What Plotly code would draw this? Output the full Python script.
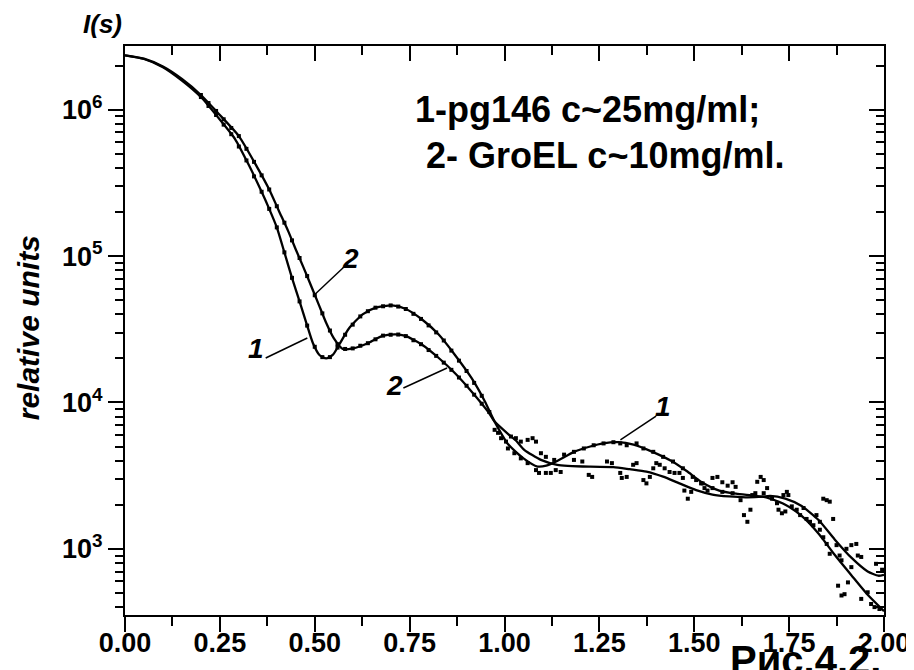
import plotly.graph_objects as go

# ---------------- data ----------------
# fitted curve 1 (pg146)
fit1_s = [0.00, 0.05, 0.10, 0.15, 0.20, 0.243, 0.29, 0.326, 0.36, 0.38, 0.40, 0.42, 0.44, 0.46, 0.48,
          0.495, 0.513, 0.53, 0.548, 0.565, 0.59, 0.626, 0.661, 0.704, 0.74, 0.782, 0.826, 0.869,
          0.913, 0.948, 0.974, 1.009, 1.05, 1.087, 1.11, 1.14, 1.183, 1.226, 1.26, 1.30, 1.34, 1.39,
          1.44, 1.48, 1.52, 1.566, 1.61, 1.65, 1.68, 1.70, 1.74, 1.783, 1.83, 1.87, 1.914, 1.957, 2.00]
fit1_i = [2.35e6, 2.22e6, 1.95e6, 1.58e6, 1.22e6, 9.0e5, 6.3e5, 4.2e5, 2.75e5, 2.1e5, 1.57e5, 1.06e5,
          7.1e4, 4.9e4, 3.35e4, 2.55e4, 2.1e4, 2.0e4, 2.12e4, 2.5e4, 3.2e4, 4.0e4, 4.45e4, 4.6e4,
          4.35e4, 3.7e4, 2.92e4, 2.12e4, 1.47e4, 1.02e4, 7.4e3, 5.2e3, 4.15e3, 3.65e3, 3.7e3, 4.0e3,
          4.6e3, 5.0e3, 5.25e3, 5.35e3, 5.15e3, 4.6e3, 3.98e3, 3.4e3, 2.85e3, 2.5e3, 2.38e3, 2.32e3,
          2.27e3, 2.2e3, 2.0e3, 1.68e3, 1.25e3, 9.1e2, 6.6e2, 4.85e2, 375]

# fitted curve 2 (GroEL)
fit2_s = [0.00, 0.05, 0.10, 0.15, 0.20, 0.243, 0.30, 0.347, 0.38, 0.405, 0.43, 0.45, 0.47, 0.49, 0.51,
          0.53, 0.55, 0.574, 0.60, 0.643, 0.678, 0.713, 0.739, 0.782, 0.826, 0.869, 0.913, 0.956,
          0.974, 1.009, 1.03, 1.052, 1.096, 1.139, 1.226, 1.287, 1.33, 1.374, 1.418, 1.461, 1.505,
          1.548, 1.592, 1.635, 1.68, 1.70, 1.74, 1.783, 1.827, 1.87, 1.914, 1.957, 1.985, 2.00]
fit2_i = [2.35e6, 2.23e6, 1.97e6, 1.62e6, 1.26e6, 9.6e5, 6.6e5, 4.1e5, 2.85e5, 2.05e5, 1.48e5, 1.11e5,
          8.4e4, 6.3e4, 4.7e4, 3.5e4, 2.75e4, 2.32e4, 2.34e4, 2.56e4, 2.85e4, 2.92e4, 2.85e4, 2.49e4,
          2.02e4, 1.59e4, 1.19e4, 8.7e3, 7.4e3, 6.1e3, 5.5e3, 4.75e3, 4.05e3, 3.75e3, 3.64e3, 3.62e3,
          3.5e3, 3.37e3, 3.11e3, 2.8e3, 2.52e3, 2.35e3, 2.28e3, 2.25e3, 2.27e3, 2.3e3, 2.2e3, 1.96e3,
          1.58e3, 1.16e3, 8.7e2, 7.0e2, 6.55e2, 665]

# experimental points, sample 1
exp1_s = [0.20, 0.22, 0.24, 0.26, 0.28, 0.30, 0.32, 0.34, 0.36, 0.38, 0.40, 0.42, 0.44, 0.46, 0.48,
          0.50, 0.52, 0.54, 0.56, 0.58, 0.60, 0.62, 0.64, 0.66, 0.68, 0.70, 0.72, 0.74, 0.76, 0.78,
          0.80, 0.82, 0.84, 0.86, 0.88, 0.90, 0.92, 0.94, 0.96,
          1.009, 1.026, 1.043, 1.061, 1.083, 1.091, 1.109, 1.122, 1.135, 1.148, 1.131, 1.157, 1.183,
          1.209, 1.235, 1.261, 1.287, 1.305, 1.322, 1.348, 1.366, 1.392, 1.418, 1.444, 1.470, 1.496,
          1.522, 1.548, 1.574, 1.601, 1.653, 1.661, 1.683, 1.718, 1.722, 1.731, 1.740, 1.757, 1.770,
          1.779, 1.788, 1.796, 1.805, 1.814, 1.822, 1.831, 1.831, 1.840, 1.849, 1.857, 1.875, 1.883,
          1.888, 1.879, 1.888, 1.896, 1.905, 1.914, 1.940, 1.957, 1.966, 1.975, 1.988]
exp1_i = [1.22e6, 1.06e6, 9.2e5, 7.9e5, 6.8e5, 5.6e5, 4.5e5, 3.5e5, 2.75e5, 2.1e5, 1.57e5, 1.06e5,
          7.1e4, 4.9e4, 3.35e4, 2.4e4, 2.04e4, 2.04e4, 2.37e4, 2.9e4, 3.4e4, 3.87e4, 4.2e4, 4.44e4,
          4.54e4, 4.6e4, 4.52e4, 4.35e4, 4.03e4, 3.72e4, 3.36e4, 3.01e4, 2.65e4, 2.26e4, 1.93e4,
          1.64e4, 1.36e4, 1.11e4, 8.6e3,
          4.85e3, 4.5e3, 4.15e3, 3.85e3, 3.45e3, 3.3e3, 3.3e3, 3.3e3, 3.45e3, 3.35e3, 4.05e3, 4.4e3,
          4.6e3, 4.85e3, 5.1e3, 5.25e3, 5.35e3, 5.25e3, 5.1e3, 5.25e3, 4.85e3, 4.6e3, 4.25e3, 3.95e3,
          3.55e3, 3.1e3, 2.8e3, 2.6e3, 2.45e3, 2.4e3, 2.33e3, 2.4e3, 2.4e3, 2.05e3, 1.85e3, 1.75e3,
          1.8e3, 1.95e3, 1.85e3, 1.7e3, 1.9e3, 1.6e3, 1.53e3, 1.45e3, 1.7e3, 1.53e3, 1.35e3, 1.2e3,
          1.08e3, 925, 1.06e3, 900, 835, 560, 480, 490, 590, 750, 455, 505, 420, 400, 388]

# experimental points, sample 2
exp2_s = [0.20, 0.22, 0.24, 0.26, 0.28, 0.30, 0.32, 0.34, 0.36, 0.38, 0.40, 0.42, 0.44, 0.46, 0.48,
          0.50, 0.52, 0.54, 0.56, 0.58, 0.60, 0.62, 0.64, 0.66, 0.68, 0.70, 0.72, 0.74, 0.76, 0.78,
          0.80, 0.82, 0.84, 0.86, 0.88, 0.90, 0.92, 0.94,
          0.974, 0.983, 0.991, 1.004, 1.017, 1.030, 1.043, 1.061, 1.074, 1.083, 1.096, 1.109, 1.183,
          1.205, 1.222, 1.231, 1.270, 1.283, 1.305, 1.309, 1.322, 1.339, 1.348, 1.366, 1.374, 1.383,
          1.392, 1.400, 1.409, 1.422, 1.435, 1.448, 1.461, 1.470, 1.474, 1.483, 1.492, 1.505, 1.518,
          1.527, 1.535, 1.548, 1.561, 1.574, 1.588, 1.601, 1.609, 1.622, 1.631, 1.640, 1.648, 1.666,
          1.675, 1.683, 1.692, 1.705, 1.735, 1.744, 1.748, 1.840, 1.849, 1.857, 1.866, 1.901, 1.914,
          1.927, 1.931, 1.940, 1.979, 1.995]
exp2_i = [1.26e6, 1.11e6, 9.8e5, 8.6e5, 7.5e5, 6.6e5, 5.4e5, 4.4e5, 3.56e5, 2.85e5, 2.19e5, 1.69e5,
          1.28e5, 9.7e4, 7.3e4, 5.4e4, 4.06e4, 3.1e4, 2.5e4, 2.32e4, 2.34e4, 2.44e4, 2.54e4, 2.7e4,
          2.86e4, 2.9e4, 2.91e4, 2.84e4, 2.66e4, 2.5e4, 2.28e4, 2.08e4, 1.87e4, 1.67e4, 1.48e4,
          1.30e4, 1.13e4, 9.8e3,
          6.5e3, 6.2e3, 5.7e3, 5.4e3, 5.85e3, 5.7e3, 5.4e3, 5.55e3, 5.7e3, 5.4e3, 4.5e3, 4.25e3, 4.05e3,
          3.95e3, 3.2e3, 3.1e3, 3.95e3, 3.85e3, 3.3e3, 3.05e3, 3.1e3, 3.75e3, 3.85e3, 2.95e3, 2.8e3,
          3.1e3, 3.55e3, 3.85e3, 3.75e3, 3.55e3, 3.35e3, 3.3e3, 3.3e3, 3.05e3, 2.5e3, 2.2e3, 2.45e3,
          2.95e3, 2.8e3, 2.6e3, 2.5e3, 3.05e3, 3.1e3, 2.85e3, 2.7e3, 2.85e3, 2.65e3, 2.15e3, 1.7e3,
          1.53e3, 1.85e3, 2.87e3, 3.1e3, 2.95e3, 2.6e3, 2.2e3, 2.33e3, 2.45e3, 2.33e3, 2.2e3, 2.15e3,
          2.1e3, 1.6e3, 1.0e3, 1.06e3, 1.08e3, 900, 880, 790, 720]

x_ticks = [0.0, 0.25, 0.5, 0.75, 1.0, 1.25, 1.5, 1.75, 2.0]
x_minor = [0.125, 0.375, 0.625, 0.875, 1.125, 1.375, 1.625, 1.875]
y_ticks = [1e3, 1e4, 1e5, 1e6]
y_ticktext = ["10<sup>3</sup>", "10<sup>4</sup>", "10<sup>5</sup>", "10<sup>6</sup>"]
y_minor = [k * 10 ** d for d in range(2, 7) for k in range(2, 10) if 350 <= k * 10 ** d <= 2.8e6]

legend_lines = ["1-pg146 c~25mg/ml;", "2- GroEL c~10mg/ml."]

# ---------------- figure ----------------
FONT = "Liberation Sans, Arial, sans-serif"
BLACK = "#000000"

fig = go.Figure()
fig.add_trace(go.Scatter(x=fit1_s, y=fit1_i, mode="lines", line=dict(color=BLACK, width=2.3, shape="spline", smoothing=0.6), hoverinfo="skip"))
fig.add_trace(go.Scatter(x=fit2_s, y=fit2_i, mode="lines", line=dict(color=BLACK, width=2.3, shape="spline", smoothing=0.6), hoverinfo="skip"))
fig.add_trace(go.Scatter(x=exp1_s, y=exp1_i, mode="markers", marker=dict(symbol="square", size=4, color=BLACK), hoverinfo="skip"))
fig.add_trace(go.Scatter(x=exp2_s, y=exp2_i, mode="markers", marker=dict(symbol="square", size=4, color=BLACK), hoverinfo="skip"))
# invisible trace to anchor mirrored (inside-tick) axes
fig.add_trace(go.Scatter(x=[1.0], y=[1e4], xaxis="x2", yaxis="y2", mode="markers", marker=dict(opacity=0), hoverinfo="skip"))

yr = [2.548, 6.435]
tickfont = dict(family=FONT, size=27, color=BLACK, weight="bold")

fig.update_layout(
    width=914, height=670,
    margin=dict(l=117, r=31, t=38, b=63),
    paper_bgcolor="white", plot_bgcolor="white",
    showlegend=False,
    xaxis=dict(range=[0, 2], tickmode="array", tickvals=x_ticks, tickformat=".2f",
               ticks="outside", ticklen=15, tickwidth=2, tickcolor=BLACK,
               showline=True, linewidth=2, linecolor=BLACK, showgrid=False, zeroline=False,
               tickfont=tickfont, ticklabelstandoff=-12,
               minor=dict(tickmode="array", tickvals=x_minor, ticks="outside", ticklen=9, tickwidth=2, tickcolor=BLACK, showgrid=False)),
    yaxis=dict(type="log", range=yr, tickmode="array", tickvals=y_ticks, ticktext=y_ticktext,
               ticks="outside", ticklen=15, tickwidth=2, tickcolor=BLACK,
               showline=True, linewidth=2, linecolor=BLACK, showgrid=False, zeroline=False,
               tickfont=tickfont,
               minor=dict(tickmode="array", tickvals=y_minor, ticks="outside", ticklen=8, tickwidth=2, tickcolor=BLACK, showgrid=False)),
    xaxis2=dict(range=[0, 2], overlaying="x", side="top", anchor="y", tickmode="array", tickvals=x_ticks,
                showticklabels=False, ticks="inside", ticklen=15, tickwidth=2, tickcolor=BLACK,
                showline=True, linewidth=2, linecolor=BLACK, showgrid=False, zeroline=False,
                minor=dict(tickmode="array", tickvals=x_minor, ticks="inside", ticklen=9, tickwidth=2, tickcolor=BLACK, showgrid=False)),
    yaxis2=dict(type="log", range=yr, overlaying="y", side="right", anchor="x", tickmode="array", tickvals=y_ticks,
                showticklabels=False, ticks="inside", ticklen=15, tickwidth=2, tickcolor=BLACK,
                showline=True, linewidth=2, linecolor=BLACK, showgrid=False, zeroline=False,
                minor=dict(tickmode="array", tickvals=y_minor, ticks="inside", ticklen=8, tickwidth=2, tickcolor=BLACK, showgrid=False)),
)

def ann(text, x, y, size, italic=False, xanchor="center", yanchor="middle", angle=0):
    t = "<b>" + text + "</b>"
    if italic:
        t = "<i>" + t + "</i>"
    fig.add_annotation(text=t, x=x, y=y, xref="paper", yref="paper", showarrow=False,
                       xanchor=xanchor, yanchor=yanchor, textangle=angle,
                       font=dict(family=FONT, size=size, color=BLACK))

# axis titles
ann("I(s)", -0.030, 1.038, 26, italic=True)
ann("relative units", -0.127, 0.505, 30, italic=True, angle=-90)

# legend text
ann(legend_lines[0], 0.609, 0.889, 36)
ann(legend_lines[1], 0.632, 0.808, 36)

# curve labels
ann("1", 0.1723, 0.4692, 28, italic=True)
ann("2", 0.2977, 0.6274, 28, italic=True)
ann("2", 0.3551, 0.4042, 28, italic=True)
ann("1", 0.7089, 0.3673, 28, italic=True)

# figure caption
ann("Рис.4.2.", 0.896, -0.079, 40, xanchor="center")

# leader lines
for (x0, y0, x1, y1) in [(0.1854, 0.4517, 0.2402, 0.4868),
                         (0.2885, 0.6116, 0.2507, 0.5641),
                         (0.3668, 0.3989, 0.4243, 0.4341),
                         (0.6997, 0.3497, 0.6527, 0.3076)]:
    fig.add_shape(type="line", xref="paper", yref="paper", x0=x0, y0=y0, x1=x1, y1=y1,
                  line=dict(color=BLACK, width=1.5))

fig.write_html("out.html")
